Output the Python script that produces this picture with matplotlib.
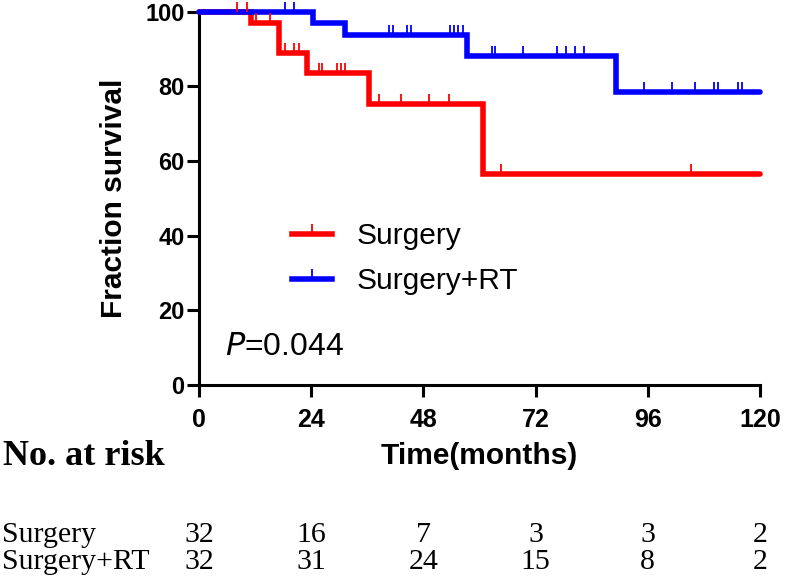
import numpy as np
import matplotlib
matplotlib.use("Agg")
import matplotlib.pyplot as plt
from matplotlib.lines import Line2D
from matplotlib import transforms

# survival curves (months, percent)
surgery_times = [0, 11.1, 17.2, 23.2, 36.3, 60.7, 120]
surgery_surv = [100, 96.9, 88.9, 83.7, 75.2, 56.4, 56.4]
surgery_censor = [8.2, 10.2, 12.1, 15.2, 18.4, 20.4, 21.3, 25.6, 26.4, 29.5,
                  30.4, 31.3, 38.5, 43.3, 49.3, 53.5, 64.5, 105.2]

rt_times = [0, 24.4, 31.3, 57.4, 89.2, 120]
rt_surv = [100, 96.9, 93.7, 88.2, 78.4, 78.4]
rt_censor = [18.3, 20.4, 40.6, 41.4, 44.5, 45.4, 53.6, 54.5, 55.4, 56.5, 62.6,
             63.4, 69.4, 76.5, 78.4, 80.4, 82.3, 95.2, 101.1, 106.1, 110.2,
             111.0, 115.2, 116.1]

# number at risk table
risk_times = [0, 24, 48, 72, 96, 120]
risk_surgery = [32, 16, 7, 3, 3, 2]
risk_rt = [32, 31, 24, 15, 8, 2]

x_ticks = [0, 24, 48, 72, 96, 120]
y_ticks = [0, 20, 40, 60, 80, 100]

RED = "#ff0000"
BLUE = "#0000ff"
SANS = "Liberation Sans"
SERIF = "Liberation Serif"

W, H = 787, 585
LW = 4.0


def level_at(times, surv, t):
    """ survival level of the step curve at time t """
    i = np.searchsorted(times, t, side="right") - 1
    return surv[i]


def fy(px):
    """ pixel row -> figure fraction """
    return 1 - px / H


fig = plt.figure(figsize=(W / 100, H / 100), dpi=100)
ax = fig.add_axes([199 / W, fy(385), (760 - 199) / W, (385 - 11.7) / H])

for times, surv, cens, col in [(surgery_times, surgery_surv, surgery_censor, RED),
                               (rt_times, rt_surv, rt_censor, BLUE)]:
    ax.plot(times, surv, drawstyle="steps-post", color=col, lw=LW,
            solid_capstyle="round", solid_joinstyle="miter", clip_on=False, zorder=3)
    cy = [level_at(times, surv, t) for t in cens]
    ax.plot(cens, cy, ls="none", marker=2, ms=7.5, mew=1.3, color=col,
            clip_on=False, zorder=4)

ax.set_xlim(0, 120)
ax.set_ylim(0, 100)
ax.set_xticks(x_ticks)
ax.set_yticks(y_ticks)

for s in ["top", "right"]:
    ax.spines[s].set_visible(False)
for s in ["left", "bottom"]:
    ax.spines[s].set_linewidth(2.2)

ax.tick_params(axis="both", width=2.2, length=8.5, direction="out")
ax.tick_params(axis="x", pad=8)
ax.tick_params(axis="y", pad=2)
for lab in ax.get_xticklabels():
    lab.set_fontfamily(SANS)
    lab.set_fontweight("bold")
    lab.set_fontsize(18)
for lab in ax.get_yticklabels():
    lab.set_fontfamily(SANS)
    lab.set_fontweight("bold")
    lab.set_fontsize(17)

ax.set_xlabel("Time(months)", fontfamily=SANS, fontweight="bold", fontsize=21.5, labelpad=7)
ax.set_ylabel("Fraction survival", fontfamily=SANS, fontweight="bold", fontsize=21.5, labelpad=12)

# legend
handles = [Line2D([0, 1], [0, 0], color=RED, lw=LW, marker=2, ms=7.5, mew=1.3),
           Line2D([0, 1], [0, 0], color=BLUE, lw=LW, marker=2, ms=7.5, mew=1.3)]
ax.legend(handles, ["Surgery", "Surgery+RT"], loc="upper left",
          bbox_to_anchor=((292 - 199) / 561, (385 - 222) / 373.3),
          frameon=False, borderpad=0, borderaxespad=0, numpoints=1,
          handlelength=1.35, handletextpad=0.8, labelspacing=0.58,
          prop={"family": SANS, "size": 21.5})

# P value
ax.text(5.6, 8, r"$\mathit{P}$=0.044", fontfamily=SANS, fontsize=23,
        ha="left", va="baseline")

# number at risk
fig.text(3 / W, fy(465), "No. at risk", fontfamily=SERIF, fontweight="bold",
         fontsize=26, ha="left", va="baseline")
row_y = [fy(542), fy(569)]
fig.text(2 / W, row_y[0], "Surgery", fontfamily=SERIF, fontsize=21.5, ha="left", va="baseline")
fig.text(2 / W, row_y[1], "Surgery+RT", fontfamily=SERIF, fontsize=21.5, ha="left", va="baseline")

tr = transforms.blended_transform_factory(ax.transData, fig.transFigure)
for t, a, b in zip(risk_times, risk_surgery, risk_rt):
    fig.text(t, row_y[0], str(a), transform=tr, fontfamily=SERIF, fontsize=21.5,
             ha="center", va="baseline")
    fig.text(t, row_y[1], str(b), transform=tr, fontfamily=SERIF, fontsize=21.5,
             ha="center", va="baseline")

fig.savefig("out.png", dpi=100)
